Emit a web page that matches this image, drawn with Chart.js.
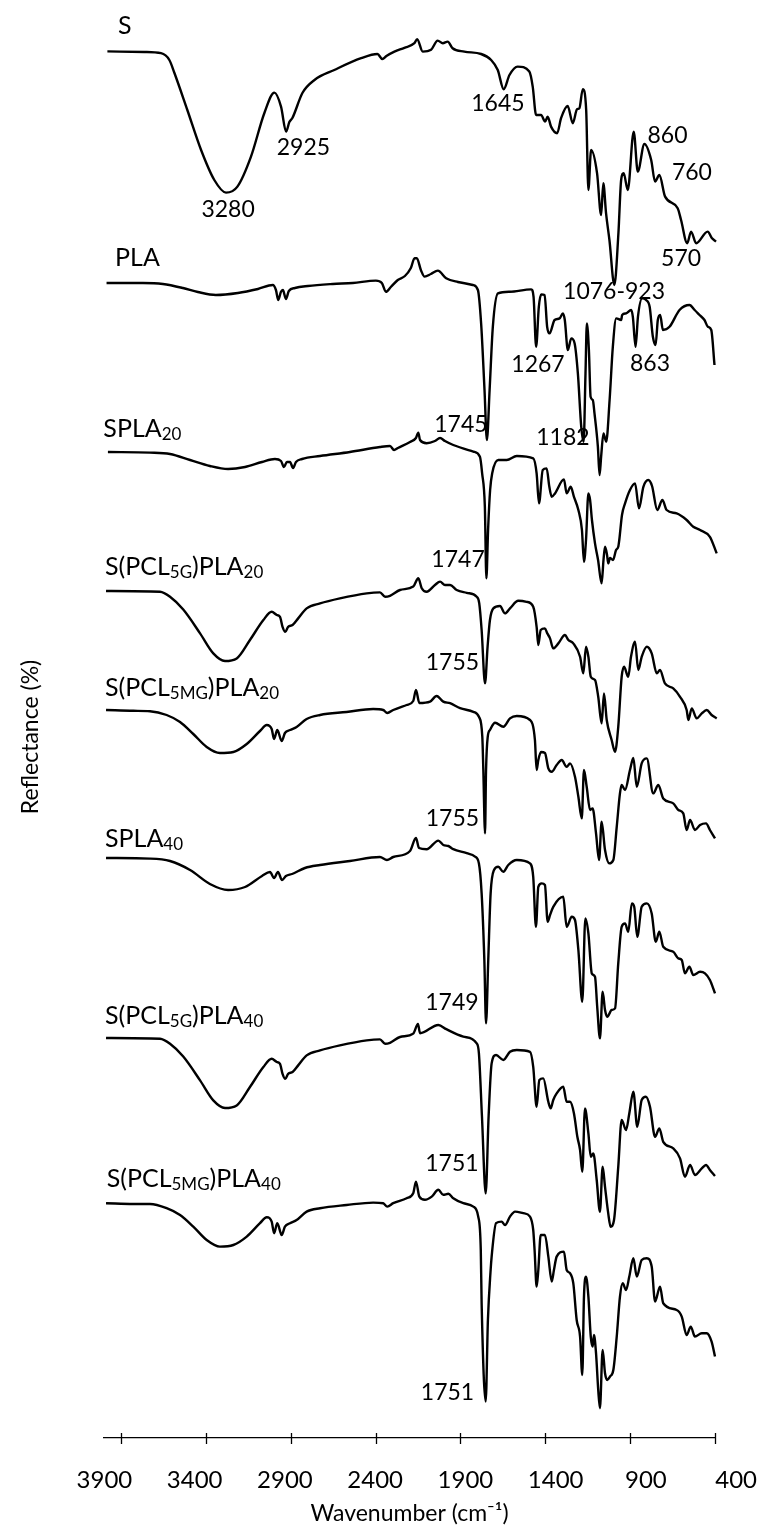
<!DOCTYPE html>
<html>
<head>
<meta charset="utf-8">
<title>FTIR spectra</title>
<script src="https://cdn.jsdelivr.net/npm/chart.js@4.4.0/dist/chart.umd.min.js"></script>
<style>
  html, body { margin: 0; padding: 0; background: #fff; }
  #wrap { width: 760px; height: 1531px; }
</style>
</head>
<body>
<div id="wrap"><canvas id="ftir" width="760" height="1531"></canvas></div>
<script>
// each spectrum: [wavenumber (cm-1), reflectance relative to the curve's own baseline]
var specS = [[3980,0],[3762,-0.3],[3664,-0.9],[3615,-4.3],[3585,-10.8],[3509,-29.3],[3428,-49.3],[3350,-64.3],[3281,-70.6],[3214,-67.6],[3134,-52.6],[3055,-30.8],[2996,-20.6],[2957,-27.6],[2927,-40.1],[2908,-35.3],[2890,-33.3],[2831,-20.8],[2760,-14.3],[2643,-9.3],[2485,-3.4],[2389,-1.3],[2360,-3.8],[2336,-2.3],[2289,-0.1],[2230,1.8],[2171,4.1],[2155,6.1],[2122,-0.1],[2073,0.8],[2034,5.4],[2004,4.1],[1975,4.9],[1946,1.6],[1877,-0.1],[1778,-1.3],[1719,-4.3],[1680,-9.3],[1645,-18.9],[1611,-11.8],[1563,-7.6],[1494,-10.1],[1474,-17.6],[1454,-31.8],[1425,-31.8],[1401,-35.1],[1386,-32.6],[1366,-37.6],[1330,-40.9],[1307,-33.4],[1268,-27.3],[1238,-35.9],[1213,-28.9],[1199,-28.4],[1179,-18.9],[1159,-29.3],[1146,-69.3],[1130,-49.3],[1095,-60.9],[1071,-81.8],[1058,-65.9],[1042,-80.9],[1022,-94.3],[993,-116.8],[969,-90.8],[953,-64.3],[938,-60.9],[914,-69.3],[879,-40.1],[855,-60.1],[816,-46.3],[776,-54.3],[753,-65.1],[728,-61.8],[694,-72.6],[620,-78.4],[600,-84.3],[564,-95.9],[541,-90.1],[511,-95.9],[443,-90.1],[419,-93.3],[394,-95.1]];

var specPLA = [[3985,0],[3771,0],[3653,-0.5],[3535,-2.5],[3447,-4.5],[3341,-6],[3211,-5],[3093,-3],[3005,-1],[2987,-3.5],[2973,-8.5],[2958,-4.5],[2946,-3.5],[2928,-8],[2911,-4],[2875,-2.5],[2799,-1.5],[2652,-0.5],[2534,0],[2398,1.2],[2363,0],[2339,-4.4],[2310,-2],[2269,1.5],[2227,3.5],[2192,7.5],[2170,12.4],[2157,12.4],[2133,6.5],[2111,3.2],[2074,4.5],[2033,6.2],[1984,2.4],[1915,0.5],[1827,-1],[1797,-3.5],[1778,-20.2],[1758,-53.5],[1744,-78.5],[1728,-53.5],[1709,-21.9],[1679,-5.2],[1610,-4.4],[1483,-3.2],[1469,-6.9],[1454,-31.9],[1438,-11.9],[1424,-5.7],[1404,-6],[1389,-21.9],[1375,-25.2],[1345,-18.5],[1316,-17.7],[1296,-15.2],[1285,-18.5],[1267,-33.5],[1247,-27.7],[1227,-30.2],[1208,-45.2],[1188,-71.9],[1174,-79.4],[1163,-45.2],[1155,-20.2],[1143,-33.5],[1133,-56.9],[1120,-58.5],[1110,-65.2],[1090,-81.9],[1080,-96],[1071,-86.9],[1057,-75.2],[1041,-79.4],[1021,-58.5],[1002,-31.9],[982,-17.7],[953,-18.5],[947,-16],[923,-15.2],[894,-13.5],[884,-16.9],[868,-31.9],[854,-16.9],[829,-7.7],[806,-8.5],[785,-11.9],[766,-26.9],[750,-31],[737,-18.5],[723,-16],[707,-23.5],[668,-21.9],[609,-13.5],[550,-11],[520,-13.5],[491,-16],[462,-18.5],[442,-21.9],[422,-23.5],[403,-41]];

var specSPLA20 = [[3977,0],[3729,-0.3],[3611,-1],[3493,-4],[3376,-7],[3269,-8.5],[3169,-7.5],[3069,-5],[2993,-3.5],[2957,-4.5],[2940,-7.5],[2922,-5],[2904,-5],[2886,-8],[2869,-5],[2833,-3.5],[2727,-2],[2551,0],[2374,2.5],[2315,3],[2291,1],[2268,2],[2197,5],[2162,7],[2148,9.7],[2138,6],[2099,4.4],[2050,5.5],[2020,7],[1991,5.5],[1942,3.5],[1824,0.2],[1785,-2.4],[1772,-10.7],[1756,-27.4],[1747,-63.2],[1737,-39],[1725,-19],[1713,-10.7],[1677,-4],[1627,-4],[1568,-2],[1471,-3.2],[1451,-10.7],[1437,-25.7],[1415,-9],[1392,-8.2],[1376,-17.4],[1362,-22.4],[1343,-20.7],[1290,-13.7],[1274,-20.7],[1250,-17.4],[1231,-22.4],[1205,-29],[1184,-39],[1172,-54.9],[1160,-44],[1146,-20.7],[1136,-24],[1125,-34],[1107,-45.7],[1089,-54],[1068,-65.7],[1057,-54],[1048,-47.4],[1036,-51.5],[1029,-55.7],[1019,-53],[1001,-54],[983,-49],[970,-47.4],[964,-44],[948,-31.5],[930,-25.7],[901,-19],[871,-15.7],[848,-28.2],[822,-17.4],[793,-14],[771,-17],[740,-29],[710,-24],[685,-29],[626,-30.7],[567,-34],[528,-37.4],[488,-39],[430,-42.4],[390,-50.7]];

var specPCL5G20 = [[3988,0],[3670,-0.4],[3611,-2.9],[3533,-9.3],[3434,-21.2],[3356,-31.2],[3287,-35],[3218,-33.7],[3140,-24.5],[3061,-14.5],[3012,-10.4],[2982,-12],[2963,-12.9],[2948,-17.9],[2932,-20.4],[2915,-17.9],[2889,-17],[2856,-13.7],[2806,-8.7],[2727,-6.2],[2610,-3.7],[2452,-1.2],[2374,-0.7],[2344,-2.9],[2315,-2.4],[2256,0.5],[2178,2.2],[2148,6.4],[2128,1.4],[2099,-0.4],[2050,3],[2020,4.7],[1991,3],[1961,3],[1922,0.5],[1863,-0.9],[1804,-2.9],[1789,-6.2],[1775,-19.5],[1755,-46.2],[1740,-27.9],[1726,-14.5],[1706,-8.7],[1667,-7.5],[1637,-11.2],[1608,-8.7],[1559,-4.9],[1510,-5.4],[1471,-7.9],[1451,-17.9],[1441,-27],[1427,-19.5],[1402,-18.7],[1388,-21.2],[1372,-23.7],[1353,-28.7],[1323,-26.2],[1284,-22],[1264,-24.5],[1235,-26.2],[1195,-32.9],[1176,-41.2],[1160,-27.9],[1146,-32.9],[1132,-42.9],[1107,-44.5],[1088,-52.9],[1068,-66.2],[1054,-51.2],[1038,-64.5],[1009,-74.5],[989,-80.4],[970,-67.9],[950,-42.9],[936,-37.9],[911,-42.9],[895,-32.9],[871,-25.4],[852,-39.5],[832,-32.9],[802,-27.9],[773,-31.2],[743,-41.2],[724,-39.5],[695,-46.2],[646,-48.7],[606,-52.9],[567,-59.5],[557,-64.5],[537,-58.7],[508,-63.7],[478,-61.2],[449,-59.5],[420,-62],[390,-63.7]];

var specPCL5MG20 = [[3988,0],[3827,-0.4],[3729,-0.6],[3631,-2.5],[3552,-6],[3474,-12],[3395,-18.5],[3317,-21.5],[3238,-21],[3159,-17],[3081,-10.5],[3041,-7.5],[3012,-9.5],[2998,-14.5],[2979,-10],[2953,-15.5],[2934,-11.5],[2904,-10],[2865,-8.5],[2806,-4.5],[2727,-2.5],[2571,-1],[2414,0.5],[2355,0],[2331,-1.5],[2296,0],[2217,2.5],[2178,4.5],[2162,10],[2142,3.5],[2079,4.2],[2040,7],[2001,4.2],[1961,3.4],[1902,0.9],[1824,-0.9],[1791,-3.4],[1771,-13.4],[1765,-30],[1755,-61.7],[1749,-30],[1739,-13.4],[1726,-10],[1696,-6.4],[1647,-8.4],[1608,-4.2],[1568,-3],[1490,-5],[1461,-15],[1451,-30],[1441,-25],[1425,-21],[1402,-21.5],[1382,-29.2],[1362,-30.9],[1333,-27.5],[1303,-25],[1274,-28.4],[1254,-26.7],[1225,-33.4],[1205,-43.4],[1185,-54.2],[1172,-30],[1156,-38.4],[1136,-50],[1121,-49.2],[1101,-61.7],[1083,-75],[1068,-55.9],[1048,-70],[1023,-76.7],[999,-75],[979,-58.4],[960,-41.7],[950,-37.5],[930,-40],[901,-30],[881,-24],[861,-38.4],[832,-26.7],[802,-24.2],[764,-41.7],[734,-37.5],[705,-44.2],[646,-46.7],[616,-50],[587,-51.7],[567,-60],[547,-55],[518,-60],[488,-57.5],[453,-56.7],[430,-60],[400,-64.2]];

var specSPLA40 = [[3988,0],[3729,-0.3],[3611,-1.5],[3493,-6],[3376,-13],[3269,-16],[3169,-14.5],[3069,-9],[3022,-7],[2998,-10],[2975,-7],[2951,-11],[2928,-9],[2892,-8],[2816,-5],[2727,-3.5],[2551,-1.5],[2374,0.5],[2333,-1],[2296,0.5],[2197,3.5],[2162,10],[2144,5],[2099,4.4],[2030,8.7],[2001,6.5],[1971,6],[1942,4.4],[1863,2.4],[1814,0.7],[1791,-2.7],[1775,-17.7],[1759,-51],[1749,-82.7],[1736,-51],[1722,-17.7],[1702,-6],[1677,-4.4],[1647,-6.9],[1618,-3.5],[1568,-1],[1490,-2.7],[1471,-9.4],[1455,-34.4],[1441,-14.4],[1421,-12.7],[1402,-13.5],[1386,-31.9],[1372,-28.5],[1353,-24.4],[1294,-19.4],[1274,-34.4],[1244,-29.4],[1225,-31],[1205,-46],[1182,-71.9],[1164,-30.2],[1146,-37.7],[1126,-57.7],[1107,-59.4],[1094,-74.4],[1078,-90.2],[1062,-66.9],[1048,-76],[1035,-79.4],[1009,-76],[989,-75.2],[970,-52.7],[950,-34.4],[930,-32.7],[911,-36.9],[890,-22.7],[876,-24.4],[858,-39.4],[832,-24.4],[802,-22.7],[773,-27.7],[749,-41.9],[728,-36.9],[705,-44.4],[646,-46.9],[616,-50.2],[596,-51],[577,-57.7],[551,-54.4],[528,-58.5],[488,-56.9],[459,-57.7],[430,-61],[400,-67.7]];

var specPCL5G40 = [[3988,0],[3670,-0.4],[3611,-2.9],[3533,-9.3],[3434,-21.2],[3356,-31.2],[3287,-35],[3218,-33.7],[3140,-24.5],[3061,-14.5],[3012,-10.4],[2982,-12],[2963,-12.9],[2948,-17.9],[2932,-20.4],[2915,-17.9],[2889,-17],[2856,-13.7],[2806,-8.7],[2727,-6.2],[2610,-3.7],[2452,-1.2],[2374,-0.7],[2344,-2.9],[2315,-2.4],[2256,0.5],[2178,2.2],[2150,7],[2138,2.4],[2030,6.5],[1983,4.4],[1883,0.7],[1804,-2.7],[1791,-7.7],[1773,-39.4],[1751,-77.7],[1734,-39.4],[1716,-12.7],[1690,-8.5],[1647,-11],[1608,-6.9],[1568,-6],[1490,-6.9],[1471,-14.4],[1451,-34.4],[1435,-21],[1412,-20.2],[1382,-31.9],[1368,-35.2],[1353,-31],[1333,-27.7],[1294,-24.4],[1274,-31.9],[1254,-31.9],[1231,-37.7],[1211,-49.4],[1195,-56],[1182,-66.9],[1166,-35.2],[1146,-47.7],[1132,-59.4],[1117,-57.7],[1097,-71],[1078,-86.9],[1062,-64.4],[1048,-74.4],[1029,-87.7],[1015,-94.4],[995,-91],[970,-64.4],[950,-41],[924,-46],[905,-37.7],[881,-26.9],[858,-44.4],[832,-31],[807,-29.4],[783,-34.4],[753,-49.4],[728,-45.2],[705,-51.9],[646,-55.2],[606,-60.2],[577,-69.4],[547,-63.5],[518,-68.5],[478,-65.2],[453,-63.5],[430,-66],[400,-69]];

var specPCL5MG40 = [[3988,0],[3827,-0.4],[3729,-0.4],[3631,-2.5],[3552,-5.9],[3474,-11.7],[3395,-18.4],[3317,-21.7],[3238,-20.9],[3159,-16.7],[3081,-10],[3041,-7],[3012,-9.2],[2998,-15],[2979,-10],[2953,-15.9],[2934,-11.7],[2904,-10],[2865,-8.4],[2806,-4.2],[2727,-2.5],[2571,-0.9],[2414,0.3],[2355,0],[2331,-1.7],[2296,0],[2217,2.5],[2178,5],[2162,10.8],[2142,3.3],[2109,1.7],[2069,3.3],[2030,6.7],[2001,4.2],[1971,4.7],[1942,2.5],[1883,0],[1824,-1.7],[1795,-6.7],[1780,-23.4],[1775,-50],[1751,-99.2],[1738,-58.4],[1722,-33.4],[1716,-26.7],[1690,-10],[1657,-9.2],[1637,-10.9],[1608,-6.7],[1578,-4.2],[1530,-5],[1490,-6.7],[1471,-13.4],[1463,-23.4],[1451,-41.7],[1441,-33.4],[1427,-15.9],[1402,-15.9],[1382,-26.7],[1362,-39.2],[1349,-33.4],[1333,-26.7],[1290,-24.2],[1274,-33.4],[1254,-35],[1235,-40],[1215,-58.4],[1195,-66.7],[1182,-85.9],[1172,-46.7],[1160,-36.7],[1146,-46.7],[1132,-66.7],[1121,-71.7],[1113,-65.9],[1101,-75],[1088,-93.4],[1078,-102.5],[1062,-73.4],[1048,-85],[1035,-88.4],[1019,-86.7],[999,-83.4],[979,-66.7],[960,-46.7],[944,-40],[924,-43.4],[905,-36.7],[881,-27.5],[861,-36.7],[832,-28.4],[802,-27.5],[773,-31.7],[753,-49.2],[724,-41.7],[705,-50],[626,-53.4],[596,-56.7],[567,-65.9],[543,-61.7],[518,-66.7],[478,-65],[449,-65],[420,-69.2],[400,-76.7]];

var spectra = [specS, specPLA, specSPLA20, specPCL5G20, specPCL5MG20, specSPLA40, specPCL5G40, specPCL5MG40];
// vertical stacking of the curves
var offsets = [693.3, 577.5, 493, 423.5, 364, 290, 200, 117.4];

// sample names, "_{..}" marks a subscript
var sampleNames = ["S", "PLA", "SPLA_{20}", "S(PCL_{5G})PLA_{20}", "S(PCL_{5MG})PLA_{20}", "SPLA_{40}", "S(PCL_{5G})PLA_{40}", "S(PCL_{5MG})PLA_{40}"];
var nameWn = [3918, 3935, 4004, 3994, 3994, 3994, 3994, 3984];
var nameY = [706.5, 590.5, 505, 436, 375.3, 300, 211.5, 130];

// band assignments written next to the curves
var peakText = ["3280", "2925", "1645", "860", "760", "570", "1076-923", "1267", "863", "1745", "1182", "1747", "1755", "1755", "1749", "1751", "1751"];
var peakWn = [3269, 2825, 1679, 680, 536, 600, 995, 1443, 783, 1897, 1296, 1914, 1947, 1947, 1950, 1950, 1976];
var peakY = [614.5, 645.5, 667.5, 651.8, 633, 590, 573.5, 537, 537.8, 507, 500.5, 439.5, 388.3, 310, 218.3, 137.4, 22.9];

var tickValues = [3900, 3400, 2900, 2400, 1900, 1400, 900, 400];

Chart.defaults.font.family = "Lato";
Chart.defaults.color = "#000";

function drawRich(c, str, x, yMid, size) {
  var parts = str.split(/_\{([^}]*)\}/);
  var base = yMid + size * 0.36;
  var cx = x;
  for (var k = 0; k < parts.length; k++) {
    if (!parts[k]) continue;
    var sub = k % 2 === 1;
    c.font = (sub ? Math.round(size * 0.68) : size) + "px Lato";
    c.fillText(parts[k], cx, sub ? base + size * 0.1 : base);
    cx += c.measureText(parts[k]).width;
  }
}

// short tick marks crossing the wavenumber axis
var crossTicks = {
  id: "crossTicks",
  afterDraw: function (chart) {
    var xs = chart.scales.x;
    var c = chart.ctx;
    c.save();
    c.strokeStyle = "#000";
    c.lineWidth = 1.3;
    tickValues.forEach(function (v) {
      var px = Math.round(xs.getPixelForValue(v)) + 0.5;
      c.beginPath();
      c.moveTo(px, xs.top - 5);
      c.lineTo(px, xs.top + 6);
      c.stroke();
    });
    c.restore();
  }
};

var textLabels = {
  id: "textLabels",
  afterDatasetsDraw: function (chart) {
    var xs = chart.scales.x, ys = chart.scales.y, c = chart.ctx;
    c.save();
    c.fillStyle = "#000";
    c.textBaseline = "alphabetic";
    c.textAlign = "left";
    for (var i = 0; i < sampleNames.length; i++) {
      drawRich(c, sampleNames[i], xs.getPixelForValue(nameWn[i]), ys.getPixelForValue(nameY[i]), 25);
    }
    c.textAlign = "center";
    c.font = "23px Lato";
    for (var j = 0; j < peakText.length; j++) {
      c.fillText(peakText[j], xs.getPixelForValue(peakWn[j]), ys.getPixelForValue(peakY[j]) + 23 * 0.36);
    }
    c.restore();
  }
};

var ctx = document.getElementById("ftir");
var datasets = spectra.map(function (spec, i) {
  return {
    label: sampleNames[i],
    data: spec.map(function (p) { return { x: p[0], y: offsets[i] + p[1] }; }),
    borderColor: "#000",
    borderWidth: 2.4,
    pointRadius: 0,
    fill: false,
    cubicInterpolationMode: "monotone",
    clip: false
  };
});

var ftirChart = new Chart(ctx, {
  type: "line",
  data: { datasets: datasets },
  options: {
    responsive: false,
    animation: false,
    events: [],
    layout: { padding: { top: 36, right: 45, left: 0, bottom: 0 } },
    plugins: { legend: { display: false }, tooltip: { enabled: false } },
    scales: {
      x: {
        type: "linear",
        position: "bottom",
        reverse: true,
        min: 400,
        max: 4000,
        grid: { display: false },
        ticks: { display: false },
        border: { display: true, color: "#000", width: 1.3 },
        afterFit: function (s) { s.height = 0; }
      },
      // label row: its numbers sit a little wider apart than the tick marks
      xl: {
        type: "linear",
        position: "bottom",
        weight: 1,
        reverse: true,
        min: 517.2,
        max: 3902.2,
        grid: { display: false },
        border: { display: false },
        afterBuildTicks: function (s) {
          s.ticks = tickValues.map(function (v) { return { value: v }; });
        },
        ticks: {
          font: { family: "Lato", size: 24 },
          color: "#000",
          padding: 20,
          maxRotation: 0,
          autoSkip: false,
          callback: function (v) { return String(v); }
        },
        title: {
          display: true,
          text: "Wavenumber (cm\u207B\u00B9)",
          font: { family: "Lato", size: 23 },
          color: "#000",
          padding: { top: 0, bottom: 4 }
        },
        afterFit: function (s) {
          s.height = 93;
          // the outer labels may overhang; keep the plot width unchanged
          s.paddingLeft = 0;
          s.paddingRight = 0;
        }
      },
      y: {
        min: 0,
        max: 701,
        grid: { display: false },
        border: { display: false },
        ticks: { display: false },
        title: {
          display: true,
          text: "Reflectance (%)",
          font: { family: "Lato", size: 23 },
          color: "#000",
          padding: { top: 17, bottom: 0 }
        },
        afterFit: function (s) { s.width = 104; }
      }
    }
  },
  plugins: [crossTicks, textLabels]
});
</script>
</body>
</html>
